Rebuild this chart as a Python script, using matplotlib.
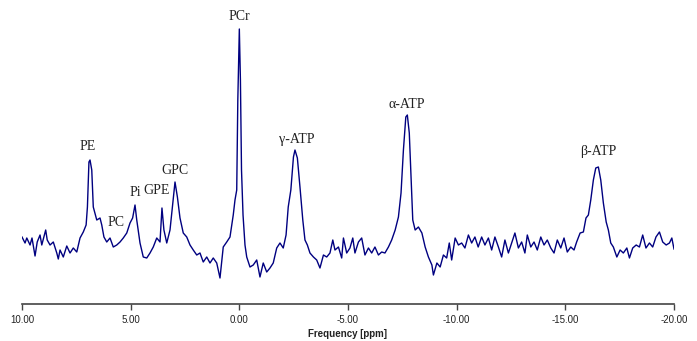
import matplotlib
matplotlib.use("Agg")
import matplotlib.pyplot as plt

plt.rcParams['axes.unicode_minus'] = False

# Chemical shift (ppm) and signal intensity (arbitrary units)
ppm = [10.00, 9.86, 9.78, 9.63, 9.54, 9.40, 9.30, 9.17, 9.09, 8.91, 8.84, 8.71, 8.56, 8.40, 8.33, 8.25,
       8.10, 7.94, 7.79, 7.64, 7.48, 7.33, 7.18, 7.05, 6.99, 6.92, 6.87, 6.79, 6.72, 6.56, 6.41, 6.33,
       6.23, 6.10, 5.95, 5.80, 5.64, 5.49, 5.34, 5.18, 5.03, 4.91, 4.80, 4.72, 4.57, 4.42, 4.26, 4.11,
       3.96, 3.80, 3.65, 3.56, 3.47, 3.34, 3.19, 3.06, 2.96, 2.85, 2.73, 2.58, 2.42, 2.27, 2.12, 1.96,
       1.81, 1.66, 1.50, 1.35, 1.20, 1.04, 0.89, 0.74, 0.58, 0.43, 0.28, 0.20, 0.12, 0.07, 0.00, -0.05,
       -0.10, -0.17, -0.26, -0.34, -0.49, -0.64, -0.80, -0.95, -1.10, -1.26, -1.41, -1.56, -1.72, -1.87,
       -2.02, -2.15, -2.25, -2.37, -2.49, -2.56, -2.67, -2.79, -2.92, -3.02, -3.13, -3.25, -3.41, -3.56,
       -3.71, -3.87, -4.02, -4.17, -4.30, -4.40, -4.56, -4.71, -4.79, -4.94, -5.09, -5.22, -5.32, -5.48,
       -5.63, -5.78, -5.94, -6.09, -6.24, -6.40, -6.55, -6.70, -6.86, -7.01, -7.17, -7.32, -7.44, -7.55,
       -7.66, -7.73, -7.82, -7.90, -7.98, -8.09, -8.24, -8.40, -8.55, -8.70, -8.86, -8.93, -9.09, -9.24,
       -9.39, -9.54, -9.66, -9.77, -9.93, -10.08, -10.23, -10.38, -10.54, -10.69, -10.84, -10.99, -11.15,
       -11.30, -11.46, -11.61, -11.76, -11.92, -12.07, -12.22, -12.38, -12.53, -12.68, -12.84, -12.99,
       -13.14, -13.25, -13.41, -13.56, -13.71, -13.87, -14.02, -14.17, -14.33, -14.48, -14.63, -14.79,
       -14.94, -15.09, -15.25, -15.40, -15.52, -15.68, -15.83, -15.95, -16.06, -16.17, -16.29, -16.40,
       -16.52, -16.63, -16.75, -16.88, -16.98, -17.09, -17.21, -17.37, -17.52, -17.67, -17.83, -17.95,
       -18.10, -18.26, -18.41, -18.56, -18.71, -18.87, -19.02, -19.17, -19.33, -19.48, -19.64, -19.79,
       -19.90, -20.00]

intensity = [6, 0, 5, -2, 5, -13, 1, 8, -2, 13, 3, -2, 1, -10, -16, -7,
             -14, -3, -10, -5, -9, 5, 11, 18, 36, 81, 83, 73, 36, 23, 25, 18,
             6, 1, 5, -4, -2, 1, 5, 10, 20, 25, 38, 23, 0, -14, -15, -10,
             -4, 5, 1, 35, 13, 0, 13, 40, 61, 46, 25, 10, 6, -2, -7, -12,
             -10, -19, -14, -20, -15, -20, -35, -4, 1, 6, 28, 43, 53, 143, 214, 163,
             73, 28, -2, -14, -24, -22, -17, -34, -20, -29, -25, -20, -5, 0,
             -5, 8, 36, 53, 86, 93, 85, 56, 23, 3, -2, -10, -14, -17,
             -25, -12, -14, -10, 3, -7, -4, -15, 5, -10, -5, 5, -10, 1,
             5, -12, -5, -10, -4, -12, -9, -10, -4, 3, 13, 26, 50, 93,
             126, 128, 110, 66, 23, 13, 16, 10, -4, -14, -22, -32, -20, -24,
             -12, -15, 0, -17, 5, -2, 0, -5, 8, 0, 6, -4, 6,
             -2, 5, -7, 6, -4, -14, 3, -10, 0, 10, -5, 1,
             -10, 8, -4, 1, -7, 6, -2, 3, -5, -10, 3, -5,
             5, -9, -4, -7, 1, 10, 11, 25, 28, 43, 63, 75,
             76, 63, 40, 21, 13, 0, -4, -14, -7, -10, -5, -15,
             -5, -2, -4, 8, -5, 0, -4, 6, 11, 1, -2, 0,
             5, -6]

peak_names = ["PE", "PC", "Pi", "GPE", "GPC", "PCr", "γ-ATP", "α-ATP", "β-ATP"]
label_ppm = [6.96, 5.67, 4.80, 3.79, 2.96, 0.01, -2.65, -7.72, -16.50]
label_int = [96, 20, 50, 53, 73, 226, 104, 138, 91]

x_ticks = [10, 5, 0, -5, -10, -15, -20]

fig = plt.figure(figsize=(6.97, 3.41), dpi=100)
ax = fig.add_axes([22 / 697, 37 / 341, 652 / 697, 284 / 341])

ax.plot(ppm, intensity, color="#000080", linewidth=1.0)

for name, xp, yp in zip(peak_names, label_ppm, label_int):
    ax.text(xp, yp, name, ha="center", va="center", fontsize=10,
            family=["Liberation Serif", "DejaVu Serif"], color="#222222", clip_on=False)

ax.set_xlim(10, -20)
ax.set_ylim(-61, 223)
ax.set_xticks(x_ticks)
ax.set_xticklabels([f"{t:.2f}" for t in x_ticks])
ax.tick_params(axis="x", direction="out", length=4, width=1, color="#444444",
               labelsize=7, labelcolor="#222222", pad=4)
for lbl in ax.get_xticklabels():
    lbl.set_family("Liberation Sans")
ax.set_yticks([])
for side in ["left", "right", "top"]:
    ax.spines[side].set_visible(False)
ax.spines["bottom"].set_color("#444444")
ax.spines["bottom"].set_linewidth(1.2)
ax.set_xlabel("Frequency [ppm]", fontsize=7, fontweight="bold",
              family="Liberation Sans", labelpad=3, color="#222222")

fig.savefig("out.png", dpi=100)
